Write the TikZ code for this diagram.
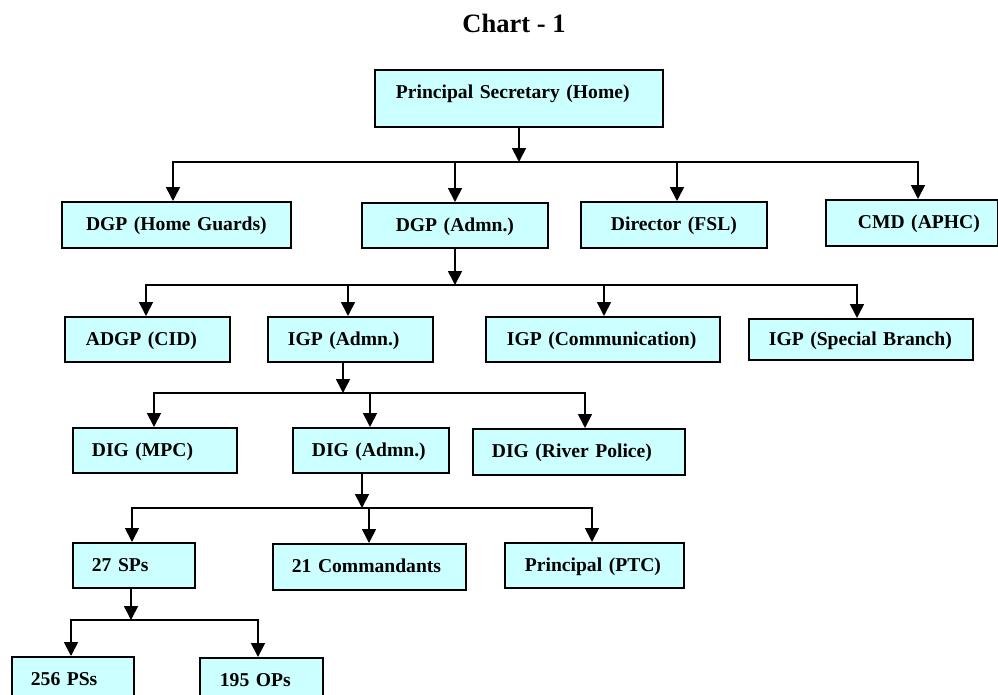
\documentclass[tikz,border=0pt]{standalone}
\usepackage{fontspec}
\setmainfont{Liberation Serif}
\usetikzlibrary{arrows.meta}
\definecolor{boxfill}{HTML}{CCFFFF}
\begin{document}
\begin{tikzpicture}[x=1pt,y=-1pt,
  orgbox/.style={draw=black, fill=boxfill, line width=1.8pt, anchor=north west,
    align=left, inner xsep=0pt, inner ysep=0pt, text height=16pt, text depth=4pt,
    font=\fontsize{19.6}{22}\selectfont\bfseries},
  cbox/.style={orgbox, align=center},
  link/.style={line width=1.7pt, draw=black},
  arr/.style={link, -{Triangle[length=14pt,width=14pt]}},
  dbl/.style={link, line join=miter, {Triangle[length=14pt,width=14pt]}-{Triangle[length=14pt,width=14pt]}}]

\useasboundingbox (0,0) rectangle (998,694);

% heading
\node[font=\fontsize{26.5}{30}\selectfont\bfseries, anchor=base] (title) at (514,32) {Chart - 1};

% level 0
\node[orgbox, text width=288pt, minimum height=57pt, text depth=15pt] (ps) at (374,69) {\hspace*{21pt}Principal Secretary (Home)};

% level 1
\node[cbox, text width=229pt, minimum height=46pt] (hg)   at (61,201)  {DGP (Home Guards)};
\node[cbox, text width=186pt, minimum height=45pt] (dgpa) at (361,202) {DGP (Admn.)};
\node[cbox, text width=186pt, minimum height=46pt] (fsl)  at (580,201) {Director (FSL)};
\node[orgbox, text width=172pt, minimum height=46pt] (cmd) at (825,199) {\hspace*{32pt}CMD (APHC)};

% level 2
\node[orgbox, text width=165pt, minimum height=45pt] (adgp) at (64,316)  {\hspace*{21pt}ADGP (CID)};
\node[orgbox, text width=165pt, minimum height=45pt] (igpa) at (267,316) {\hspace*{20pt}IGP (Admn.)};
\node[orgbox, text width=234pt, minimum height=45pt] (igpc) at (485,316) {\hspace*{21pt}IGP (Communication)};
\node[orgbox, text width=224pt, minimum height=41pt] (igps) at (748,318) {\hspace*{20pt}IGP (Special Branch)};

% level 3
\node[orgbox, text width=164pt, minimum height=45pt] (digm) at (72,427)  {\hspace*{19pt}DIG (MPC)};
\node[orgbox, text width=156pt, minimum height=45pt] (diga) at (292,427) {\hspace*{19pt}DIG (Admn.)};
\node[orgbox, text width=212pt, minimum height=46pt] (digr) at (472,428) {\hspace*{19pt}DIG (River Police)};

% level 4
\node[orgbox, text width=122pt, minimum height=45pt] (sps)  at (72,542)  {\hspace*{19pt}27 SPs};
\node[orgbox, text width=193pt, minimum height=46pt] (cmdt) at (272,543) {\hspace*{19pt}21 Commandants};
\node[orgbox, text width=179pt, minimum height=45pt] (ptc)  at (504,542) {\hspace*{20pt}Principal (PTC)};

% level 5
\node[orgbox, text width=122pt, minimum height=45pt] (pss) at (11,656)  {\hspace*{19pt}256 PSs};
\node[orgbox, text width=123pt, minimum height=45pt] (ops) at (199,657) {\hspace*{20pt}195 OPs};

% distribution bars
\coordinate (pA) at (519,162);
\coordinate (a1) at (173,162); \coordinate (a2) at (455,162);
\coordinate (a3) at (677,162); \coordinate (a4) at (918,162);

\coordinate (pB) at (455,285);
\coordinate (b1) at (146,285); \coordinate (b2) at (348,285);
\coordinate (b3) at (604,285); \coordinate (b4) at (857,285);

\coordinate (pC) at (343,393);
\coordinate (c1) at (154,393); \coordinate (c2) at (370,393); \coordinate (c3) at (585,393);

\coordinate (pD) at (362,508);
\coordinate (d1) at (132,508); \coordinate (d2) at (369,508); \coordinate (d3) at (592,508);

\coordinate (pE) at (131,620);
\coordinate (e1) at (71,620); \coordinate (e2) at (258,620);

% Principal Secretary -> level 1
\draw[arr] (ps.south -| pA) -- (pA);
\draw[dbl] (a1 |- hg.north) -- (a1) -- (a4) -- (a4 |- cmd.north);
\draw[arr] (a2) -- (a2 |- dgpa.north);
\draw[arr] (a3) -- (a3 |- fsl.north);

% DGP (Admn.) -> level 2
\draw[arr] (dgpa.south -| pB) -- (pB);
\draw[dbl] (b1 |- adgp.north) -- (b1) -- (b4) -- (b4 |- igps.north);
\draw[arr] (b2) -- (b2 |- igpa.north);
\draw[arr] (b3) -- (b3 |- igpc.north);

% IGP (Admn.) -> level 3
\draw[arr] (igpa.south -| pC) -- (pC);
\draw[dbl] (c1 |- digm.north) -- (c1) -- (c3) -- (c3 |- digr.north);
\draw[arr] (c2) -- (c2 |- diga.north);

% DIG (Admn.) -> level 4
\draw[arr] (diga.south -| pD) -- (pD);
\draw[dbl] (d1 |- sps.north) -- (d1) -- (d3) -- (d3 |- ptc.north);
\draw[arr] (d2) -- (d2 |- cmdt.north);

% 27 SPs -> level 5
\draw[arr] (sps.south -| pE) -- (pE);
\draw[dbl] (e1 |- pss.north) -- (e1) -- (e2) -- (e2 |- ops.north);

\end{tikzpicture}
\end{document}
